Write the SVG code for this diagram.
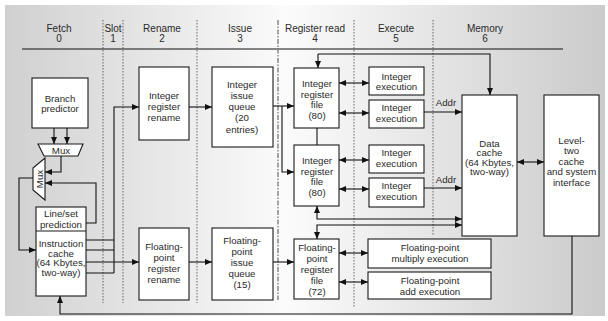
<svg xmlns="http://www.w3.org/2000/svg" width="608" height="321" viewBox="0 0 608 321">
<style>
text{font-family:"Liberation Sans",Arial,sans-serif;font-size:9.7px;fill:#2a2a2a;text-anchor:middle}
.hd{font-size:10px}
.box{fill:#fff;stroke:#1a1a1a;stroke-width:1.1}
.ln{fill:none;stroke:#111;stroke-width:1.1}
.ar{fill:none;stroke:#111;stroke-width:1.1;marker-end:url(#ah)}
.da{fill:none;stroke:#111;stroke-width:1.1;marker-start:url(#ah);marker-end:url(#ah)}
.dv{fill:none;stroke:#444;stroke-width:0.8;stroke-dasharray:1.5 1.5}
.dv2{fill:none;stroke:#777;stroke-width:1.3;stroke-dasharray:5 1.5 1.5 1.5}
</style>
<defs>
<linearGradient id="bg" x1="0" y1="0" x2="1" y2="0">
<stop offset="0" stop-color="#d0d0d0"/>
<stop offset="0.47" stop-color="#fbfbfb"/>
<stop offset="1" stop-color="#cbcbcb"/>
</linearGradient>
<marker id="ah" viewBox="0 0 7 6" refX="7" refY="3" markerWidth="7" markerHeight="6" markerUnits="userSpaceOnUse" orient="auto-start-reverse">
<path d="M0,0 L7,3 L0,6 z" fill="#111"/>
</marker>
</defs>
<rect x="0" y="0" width="608" height="321" fill="#fff"/>
<rect x="5" y="5" width="600" height="311" fill="url(#bg)"/>

<g id="header">
<text class="hd" x="59" y="32">Fetch</text><text class="hd" x="59" y="42">0</text>
<text class="hd" x="113" y="32">Slot</text><text class="hd" x="113" y="42">1</text>
<text class="hd" x="162" y="32">Rename</text><text class="hd" x="162" y="42">2</text>
<text class="hd" x="240" y="32">Issue</text><text class="hd" x="240" y="42">3</text>
<text class="hd" x="315" y="32">Register read</text><text class="hd" x="315" y="42">4</text>
<text class="hd" x="396" y="32">Execute</text><text class="hd" x="396" y="42">5</text>
<text class="hd" x="485" y="32">Memory</text><text class="hd" x="485" y="42">6</text>
<line x1="22" y1="49" x2="563" y2="49" stroke="#111" stroke-width="1.1"/>
</g>

<g id="dividers">
<line class="dv" x1="103" y1="20" x2="103" y2="303"/>
<line class="dv" x1="123" y1="20" x2="123" y2="303"/>
<line class="dv" x1="197" y1="20" x2="197" y2="303"/>
<line class="dv2" x1="278" y1="20" x2="278" y2="300"/>
<line class="dv" x1="354" y1="20" x2="354" y2="307"/>
<line class="dv" x1="433" y1="20" x2="433" y2="235"/>
</g>

<g id="branch-predictor">
<rect class="box" x="32" y="78" width="56" height="50"/>
<text x="60" y="101.5">Branch</text><text x="60" y="111.5">predictor</text>
</g>
<g id="mux-h">
<polygon class="box" points="38,144 83,144 78,156 44,156"/>
<text x="61" y="154">Mux</text>
</g>
<g id="mux-v">
<polygon class="box" points="45,158 45,200 33,190 33,168"/>
<text transform="translate(42.5,179) rotate(-90)">Mux</text>
</g>
<g id="instruction-cache">
<rect class="box" x="36" y="207" width="50" height="89"/>
<line x1="36" y1="231" x2="86" y2="231" stroke="#1a1a1a" stroke-width="1.1"/>
<text x="61" y="217">Line/set</text><text x="61" y="227.5">prediction</text>
<text x="61" y="246.5">Instruction</text><text x="61" y="256.5">cache</text>
<text x="61" y="266">(64 Kbytes,</text><text x="61" y="276">two-way)</text>
</g>
<g id="int-rename">
<rect class="box" x="139" y="67" width="50" height="73"/>
<text x="164" y="98.5">Integer</text><text x="164" y="109.5">register</text><text x="164" y="120.5">rename</text>
</g>
<g id="int-issue">
<rect class="box" x="212" y="67" width="61" height="80"/>
<text x="242" y="87.5">Integer</text><text x="242" y="98.5">issue</text><text x="242" y="109.5">queue</text><text x="242" y="121">(20</text><text x="242" y="132.5">entries)</text>
</g>
<g id="int-regfile-1">
<rect class="box" x="294" y="68" width="45" height="60"/>
<text x="317" y="86.5">Integer</text><text x="317" y="97.5">register</text><text x="317" y="107.5">file</text><text x="317" y="118.5">(80)</text>
</g>
<g id="int-regfile-2">
<rect class="box" x="294" y="145" width="45" height="61"/>
<text x="317" y="163.5">Integer</text><text x="317" y="174.5">register</text><text x="317" y="184.5">file</text><text x="317" y="195.5">(80)</text>
</g>
<g id="int-exec-1">
<rect class="box" x="369" y="67" width="55" height="28"/>
<text x="396.5" y="79.5">Integer</text><text x="396.5" y="90">execution</text>
</g>
<g id="int-exec-2">
<rect class="box" x="369" y="100" width="55" height="28"/>
<text x="396.5" y="111">Integer</text><text x="396.5" y="122">execution</text>
</g>
<g id="int-exec-3">
<rect class="box" x="369" y="145" width="55" height="28"/>
<text x="396.5" y="156">Integer</text><text x="396.5" y="167">execution</text>
</g>
<g id="int-exec-4">
<rect class="box" x="369" y="178" width="55" height="29"/>
<text x="396.5" y="189">Integer</text><text x="396.5" y="200">execution</text>
</g>
<g id="fp-rename">
<rect class="box" x="139" y="228" width="50" height="72"/>
<text x="164" y="249.5">Floating-</text><text x="164" y="260.5">point</text><text x="164" y="271.5">register</text><text x="164" y="282.5">rename</text>
</g>
<g id="fp-issue">
<rect class="box" x="212" y="228" width="61" height="72"/>
<text x="242" y="243.5">Floating-</text><text x="242" y="254.5">point</text><text x="242" y="265.5">issue</text><text x="242" y="276.5">queue</text><text x="242" y="287.5">(15)</text>
</g>
<g id="fp-regfile">
<rect class="box" x="294" y="239" width="45" height="60"/>
<text x="317" y="250.5">Floating-</text><text x="317" y="261.5">point</text><text x="317" y="272.5">register</text><text x="317" y="283.5">file</text><text x="317" y="294.5">(72)</text>
</g>
<g id="fp-mul">
<rect class="box" x="368" y="239" width="123" height="29"/>
<text x="430" y="250.5">Floating-point</text><text x="430" y="261.5">multiply execution</text>
</g>
<g id="fp-add">
<rect class="box" x="368" y="272" width="123" height="27"/>
<text x="430" y="283.5">Floating-point</text><text x="430" y="294.5">add execution</text>
</g>
<g id="data-cache">
<rect class="box" x="462" y="95" width="55" height="141"/>
<text x="489.5" y="146.5">Data</text><text x="489.5" y="156">cache</text><text x="489.5" y="165.5">(64 Kbytes,</text><text x="489.5" y="175">two-way)</text>
</g>
<g id="l2-cache">
<rect class="box" x="544" y="95" width="55" height="141"/>
<text x="571.5" y="143.5">Level-</text><text x="571.5" y="154">two</text><text x="571.5" y="164.5">cache</text><text x="571.5" y="175">and system</text><text x="571.5" y="186">interface</text>
</g>

<g id="connectors">
<path class="ar" d="M54,128 V144"/>
<path class="ar" d="M67,128 V144"/>
<path class="ar" d="M61,156 V172 H45"/>
<path class="ar" d="M86,223 H96 V183 H45"/>
<path class="ar" d="M33,178 H19 V250 H36"/>
<path class="ln" d="M86,240 H114 M86,250 H114 M86,273 H114"/>
<path class="ar" d="M114,273 V107 H139"/>
<path class="ar" d="M86,262 H139"/>
<path class="ar" d="M189,107 H212"/>
<path class="ar" d="M189,262 H212"/>
<path class="ar" d="M273,106 H294"/>
<path class="ar" d="M282,106 V172 H294"/>
<path class="ar" d="M273,262 H294"/>
<path class="ln" d="M317,128 V145"/>
<path class="ar" d="M318,54 H490 V95"/>
<path class="ar" d="M318,54 V68"/>
<path class="da" d="M339,83 H369"/>
<path class="da" d="M339,113 H369"/>
<path class="da" d="M339,160 H369"/>
<path class="da" d="M339,189 H369"/>
<path class="da" d="M339,253 H368"/>
<path class="da" d="M339,282 H368"/>
<path class="ar" d="M424,112 H462"/>
<text x="446" y="106">Addr</text>
<path class="ar" d="M424,188 H462"/>
<text x="446" y="183">Addr</text>
<path class="da" d="M462,219 H317 V206"/>
<path class="da" d="M462,225 H317 V239"/>
<path class="da" d="M517,162 H544"/>
<path class="ar" d="M572,236 V314 H60 V296"/>
</g>
</svg>
